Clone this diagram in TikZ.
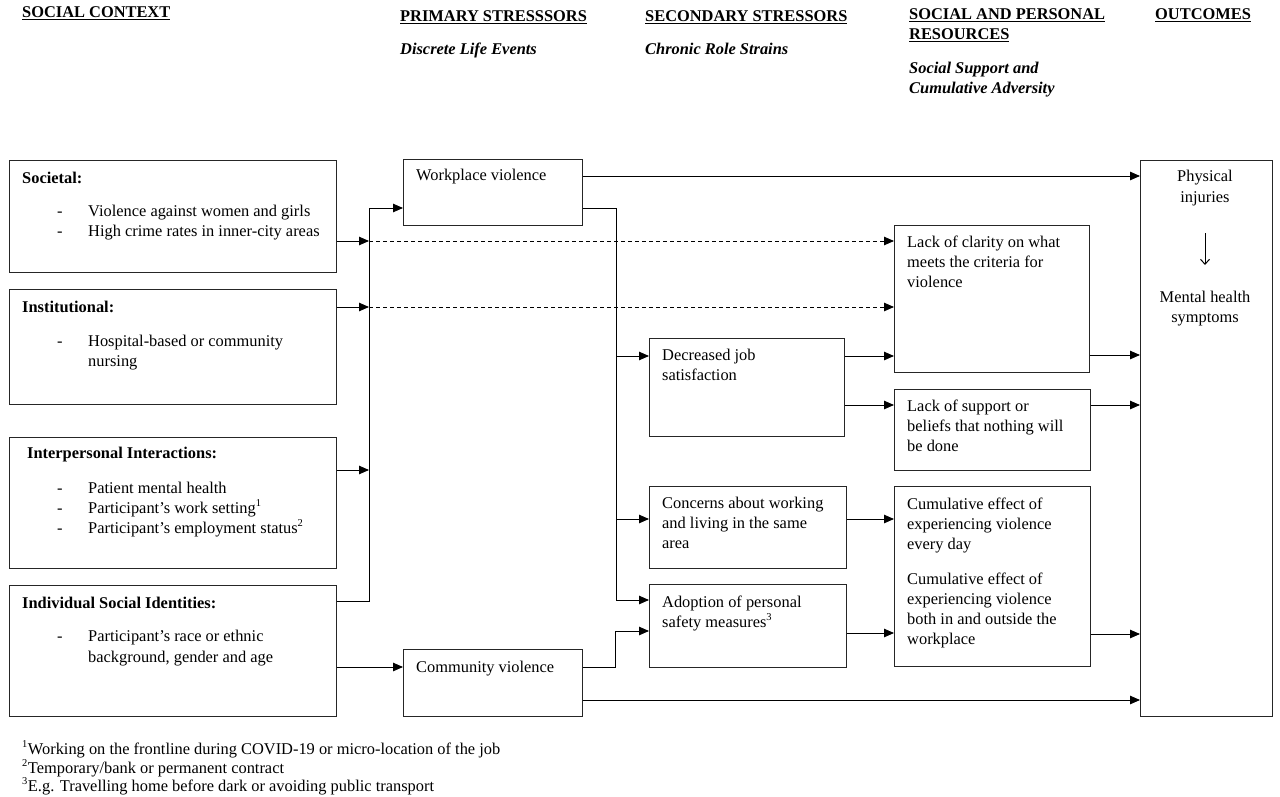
\documentclass[tikz,border=0pt]{standalone}
\usepackage{fontspec}
\setmainfont{Liberation Serif}
\usetikzlibrary{arrows.meta}
\newcommand\mainsz{\fontsize{16.4}{20}\selectfont}
\newcommand\sups[1]{\textsuperscript{\fontsize{10.5}{10.5}\selectfont #1}}
\begin{document}
\begin{tikzpicture}[x=1pt,y=-1pt,
  box/.style={draw=black!85, line width=1.1pt, anchor=north west, inner sep=0pt},
  txt/.style={anchor=base west, inner sep=0pt, font=\mainsz},
  ctxt/.style={anchor=base, inner sep=0pt, font=\mainsz},
  hd/.style={anchor=base west, inner sep=0pt, font=\mainsz\bfseries},
  sub/.style={anchor=base west, inner sep=0pt, font=\mainsz\bfseries\itshape},
  arr/.style={line width=0.9pt, -{Triangle[length=10pt,width=8.5pt]}},
  ln/.style={line width=0.9pt},
  dsh/.style={dash pattern=on 4pt off 3pt}
]
\useasboundingbox (0,0) rectangle (1280,797);

% headers
\node[hd] (h1) at (22,18) {\underline{SOCIAL CONTEXT}};
\node[hd] (h2) at (400,22) {\underline{PRIMARY STRESSSORS}};
\node[sub] (s2) at (400,55) {Discrete Life Events};
\node[hd] (h3) at (645,22) {\underline{SECONDARY STRESSORS}};
\node[sub] (s3) at (645,55) {Chronic Role Strains};
\node[hd] (h4a) at (909,20) {\underline{SOCIAL AND PERSONAL}};
\node[hd] (h4b) at (909,40) {\underline{RESOURCES}};
\node[sub] (s4a) at (909,74) {Social Support and};
\node[sub] (s4b) at (909,94) {Cumulative Adversity};
\node[hd] (h5) at (1155,20) {\underline{OUTCOMES}};

% boxes
\node[box, minimum width=327pt, minimum height=112pt] (soc) at (9,160) {};
\node[box, minimum width=327pt, minimum height=115pt] (ins) at (9,289) {};
\node[box, minimum width=327pt, minimum height=131pt] (ip) at (9,437) {};
\node[box, minimum width=327pt, minimum height=131pt] (ind) at (9,585) {};
\node[box, minimum width=179pt, minimum height=66pt] (wv) at (403,159) {};
\node[box, minimum width=179pt, minimum height=67pt] (cv) at (403,649) {};
\node[box, minimum width=195pt, minimum height=98pt] (dj) at (649,338) {};
\node[box, minimum width=197pt, minimum height=82pt] (co) at (649,486) {};
\node[box, minimum width=197pt, minimum height=83pt] (ad) at (649,584) {};
\node[box, minimum width=195pt, minimum height=147pt] (lc) at (894,225) {};
\node[box, minimum width=196pt, minimum height=81pt] (ls) at (894,389) {};
\node[box, minimum width=196pt, minimum height=180pt] (cum) at (894,486) {};
\node[box, minimum width=132pt, minimum height=556pt] (out) at (1140,160) {};

% left texts
\node[hd] (t1) at (22,183) {Societal:};
\node[txt] (t1a) at (57,216) {-};
\node[txt] (t1b) at (88,216) {Violence against women and girls};
\node[txt] (t1c) at (57,236) {-};
\node[txt] (t1d) at (88,236) {High crime rates in inner-city areas};

\node[hd] (t2) at (22,312) {Institutional:};
\node[txt] (t2a) at (57,346) {-};
\node[txt] (t2b) at (88,346) {Hospital-based or community};
\node[txt] (t2c) at (88,366) {nursing};

\node[hd] (t3) at (27,458) {Interpersonal Interactions:};
\node[txt] (t3a) at (57,493) {-};
\node[txt] (t3b) at (88,493) {Patient mental health};
\node[txt] (t3c) at (57,513) {-};
\node[txt] (t3d) at (88,513) {Participant’s work setting\sups{1}};
\node[txt] (t3e) at (57,533) {-};
\node[txt] (t3f) at (88,533) {Participant's employment status\sups{2}};

\node[hd] (t4) at (22,608) {Individual Social Identities:};
\node[txt] (t4a) at (57,641) {-};
\node[txt] (t4b) at (88,641) {Participant's race or ethnic};
\node[txt] (t4c) at (88,662) {background, gender and age};

% middle texts
\node[txt] (w1) at (416,180) {Workplace violence};
\node[txt] (c1) at (416,672) {Community violence};
\node[txt] (d1) at (662,360) {Decreased job};
\node[txt] (d2) at (662,380) {satisfaction};
\node[txt] (o1) at (662,508) {Concerns about working};
\node[txt] (o2) at (662,528) {and living in the same};
\node[txt] (o3) at (662,548) {area};
\node[txt] (a1) at (662,607) {Adoption of personal};
\node[txt] (a2) at (662,627) {safety measures\sups{3}};

\node[txt] (l1) at (907,247) {Lack of clarity on what};
\node[txt] (l2) at (907,267) {meets the criteria for};
\node[txt] (l3) at (907,287) {violence};
\node[txt] (s1) at (907,411) {Lack of support or};
\node[txt] (s2x) at (907,431) {beliefs that nothing will};
\node[txt] (s3x) at (907,451) {be done};
\node[txt] (u1) at (907,509) {Cumulative effect of};
\node[txt] (u2) at (907,529) {experiencing violence};
\node[txt] (u3) at (907,549) {every day};
\node[txt] (u4) at (907,584) {Cumulative effect of};
\node[txt] (u5) at (907,604) {experiencing violence};
\node[txt] (u6) at (907,624) {both in and outside the};
\node[txt] (u7) at (907,644) {workplace};

\node[ctxt] (p1) at (1205,182) {Physical};
\node[ctxt] (p2) at (1205,202) {injuries};
\node[ctxt] (m1) at (1205,302) {Mental health};
\node[ctxt] (m2) at (1205,322) {symptoms};
\draw[line width=1pt, -{Straight Barb[length=5pt,width=9pt]}] (p2.south |- 0,233) -- (m1.north |- 0,265);

% footnotes
\node[txt] (f1) at (22,754) {\sups{1}Working on the frontline during COVID-19 or micro-location of the job};
\node[txt] (f2) at (22,773) {\sups{2}Temporary/bank or permanent contract};
\node[txt] (f3) at (22,791) {\sups{3}E.g. Travelling home before dark or avoiding public transport};

% junction coordinates
\coordinate (jTop) at (369,208);
\coordinate (jA) at (369,241);
\coordinate (jB) at (369,307);
\coordinate (jC) at (369,470);
\coordinate (jBot) at (369,601);
\coordinate (kTop) at (616,208);
\coordinate (kBot) at (616,600);
\coordinate (cvA) at (615,667);
\coordinate (cvB) at (615,631);

% connectors left
\draw[arr] (ind.east |- jBot) -- (jBot) -- (jTop) -- (wv.west |- jTop);
\draw[arr] (soc.east |- jA) -- (jA);
\draw[arr] (ins.east |- jB) -- (jB);
\draw[arr] (ip.east |- jC) -- (jC);
\draw[arr, dsh] (jA) -- (lc.west |- jA);
\draw[arr, dsh] (jB) -- (lc.west |- jB);
\draw[arr] (ind.east |- cvA) -- (cv.west |- cvA);

% from workplace violence
\draw[arr] (wv.east |- 0,176) -- (out.west |- 0,176);
\draw[arr] (wv.east |- kTop) -- (kTop) -- (kBot) -- (ad.west |- kBot);
\draw[arr] (kTop |- 0,356) -- (dj.west |- 0,356);
\draw[arr] (kTop |- 0,519) -- (co.west |- 0,519);

% from community violence
\draw[arr] (cv.east |- cvA) -- (cvA) -- (cvB) -- (ad.west |- cvB);
\draw[arr] (cv.east |- 0,700) -- (out.west |- 0,700);

% secondary to resources
\draw[arr] (dj.east |- 0,356) -- (lc.west |- 0,356);
\draw[arr] (dj.east |- 0,405) -- (ls.west |- 0,405);
\draw[arr] (co.east |- 0,519) -- (cum.west |- 0,519);
\draw[arr] (ad.east |- 0,633) -- (cum.west |- 0,633);

% resources to outcomes
\draw[arr] (lc.east |- 0,355) -- (out.west |- 0,355);
\draw[arr] (ls.east |- 0,405) -- (out.west |- 0,405);
\draw[arr] (cum.east |- 0,634) -- (out.west |- 0,634);
\end{tikzpicture}
\end{document}
